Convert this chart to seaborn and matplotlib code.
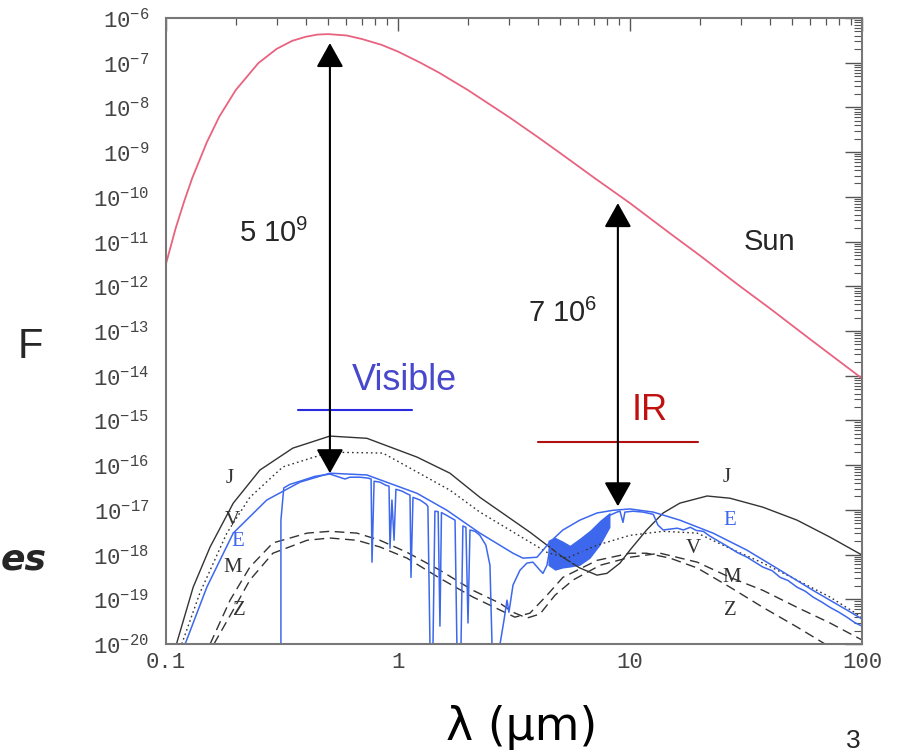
import numpy as np
import matplotlib
matplotlib.use("Agg")
import matplotlib.pyplot as plt
import seaborn as sns
from matplotlib.ticker import LogLocator, NullFormatter, FixedLocator, FixedFormatter

# ---------------- data ----------------
# wavelengths in micrometres, fluxes given as log10(F)
sun_lam = [0.1, 0.11, 0.12, 0.13, 0.15, 0.17, 0.2, 0.25, 0.3, 0.35, 0.4, 0.45, 0.5,
           0.6, 0.7, 0.85, 1.0, 1.25, 1.5, 2, 3, 4, 5, 7, 10, 15, 20, 30, 40, 60, 100]
sun_logF = [-11.50, -10.71, -10.09, -9.57, -8.78, -8.20, -7.61, -7.01, -6.69, -6.51,
            -6.42, -6.37, -6.36, -6.39, -6.47, -6.60, -6.75, -7.00, -7.22, -7.61, -8.21,
            -8.66, -9.02, -9.57, -10.14, -10.83, -11.31, -12.01, -12.49, -13.19, -14.06]

J_lam = [0.111, 0.131, 0.155, 0.195, 0.254, 0.352, 0.509, 0.735, 1.208, 1.675, 2.255,
         3.706, 5.14, 6.08, 7.21, 7.96, 9.06, 10.0, 11.8, 13.9, 16.4, 21.5, 27.0, 37.4,
         52.5, 72.8, 100.0]
J_logF = [-20.0, -18.73, -17.83, -16.85, -16.11, -15.62, -15.35, -15.40, -15.82, -16.18,
          -16.72, -17.50, -18.06, -18.30, -18.46, -18.42, -18.19, -17.90, -17.45, -17.07,
          -16.85, -16.69, -16.74, -16.94, -17.23, -17.61, -18.01]

V_lam = [0.117, 0.140, 0.183, 0.230, 0.319, 0.509, 0.861, 1.675, 2.255, 4.387, 5.35,
         7.21, 10.0, 13.9, 19.5, 25.2, 37.4, 52.5, 72.8, 100.0]
V_logF = [-20.0, -18.86, -17.52, -16.72, -16.04, -15.71, -15.73, -16.56, -17.05, -17.95,
          -18.08, -17.79, -17.57, -17.48, -17.52, -17.79, -18.19, -18.57, -18.95, -19.40]

E_env_lam = [0.121, 0.150, 0.195, 0.272, 0.378, 0.509, 0.735, 1.208, 1.626, 2.255, 3.133,
             3.459, 3.974, 4.52, 5.14, 6.08, 7.21, 8.45, 10.0, 12.6, 16.4, 22.8, 31.9,
             44.4, 61.5, 86.1, 100.0]
E_env_logF = [-20.0, -18.73, -17.52, -16.78, -16.38, -16.18, -16.22, -16.63, -17.01,
              -17.52, -17.97, -18.08, -18.06, -17.72, -17.45, -17.23, -17.07, -17.01,
              -16.98, -17.05, -17.23, -17.52, -17.90, -18.35, -18.80, -19.24, -19.44]

E_spec_lam = [0.313, 0.313, 0.322, 0.342, 0.378, 0.439, 0.509, 0.591, 0.62, 0.686, 0.743,
              0.766, 0.773, 0.789, 0.836, 0.887, 0.915, 0.924, 0.942, 0.962, 0.980, 1.04,
              1.104, 1.127, 1.138, 1.161, 1.245, 1.32, 1.346, 1.374, 1.416, 1.443, 1.49,
              1.517, 1.54, 1.643, 1.762, 1.795, 1.870, 1.905, 1.963, 2.004, 2.044, 2.147,
              2.255, 2.393, 2.492, 2.543, 2.754, 2.864, 2.951, 3.008, 3.133, 3.357, 3.597,
              3.818, 4.093, 4.217, 4.387, 4.52, 4.75, 4.99, 5.35, 5.79, 6.40, 7.07, 7.65,
              8.20, 8.79, 9.06, 9.33, 9.51, 10.3, 11.4, 12.6, 13.2, 13.9, 14.9, 16.0, 17.0,
              18.2, 19.3, 20.7, 22.0, 23.7, 26.0, 28.9, 32.0, 37.4, 41.0, 44.4, 48.0, 52.5,
              57.0, 61.5, 67.0, 72.8, 79.0, 86.1, 93.0, 100.0]
E_spec_logF = [-20.0, -17.23, -16.51, -16.43, -16.36, -16.25, -16.20, -16.31, -16.27,
               -16.27, -16.29, -16.31, -18.17, -16.36, -16.38, -16.45, -16.47, -17.86,
               -16.78, -17.68, -16.54, -16.58, -16.65, -16.67, -18.51, -16.72, -16.78,
               -16.87, -16.92, -20.0, -20.0, -17.03, -17.04, -19.60, -17.06, -17.14,
               -17.23, -20.0, -20.0, -17.36, -17.39, -19.53, -17.45, -17.48, -17.57,
               -17.79, -18.24, -20.0, -20.0, -19.47, -19.02, -19.29, -18.68, -18.35,
               -18.19, -18.17, -18.35, -18.42, -18.24, -17.86, -17.79, -18.13, -18.24,
               -18.13, -17.86, -17.63, -17.34, -17.12, -17.05, -17.03, -17.28, -17.05,
               -17.03, -17.05, -17.10, -17.34, -17.45, -17.43, -17.41, -17.45, -17.39,
               -17.46, -17.48, -17.58, -17.68, -17.80, -17.95, -18.06, -18.28, -18.36,
               -18.51, -18.58, -18.73, -18.82, -18.95, -19.06, -19.18, -19.28, -19.40,
               -19.52, -19.60]

# dense 6.3 um water band (filled region)
Eband_lam = [4.43, 4.75, 5.14, 5.51, 6.08, 6.73, 7.43, 8.20]
Eband_lo = [-18.24, -18.35, -18.30, -18.28, -18.24, -18.08, -17.79, -17.39]
Eband_hi = [-17.68, -17.61, -17.70, -17.79, -17.63, -17.45, -17.23, -17.05]

M_lam = [0.155, 0.189, 0.230, 0.289, 0.406, 0.509, 0.665, 0.836, 1.094, 1.517, 2.104,
         2.754, 3.133, 3.597, 4.093, 4.75, 5.68, 7.43, 10.0, 13.5, 19.5, 27.0, 37.4,
         52.5, 72.8, 100.0]
M_logF = [-20.0, -19.02, -18.28, -17.74, -17.52, -17.48, -17.52, -17.68, -17.95, -18.35,
          -18.80, -19.09, -19.29, -19.42, -19.33, -18.91, -18.57, -18.24, -18.06, -17.97,
          -18.17, -18.51, -18.80, -19.18, -19.53, -19.91]

Z_lam = [0.161, 0.195, 0.230, 0.289, 0.406, 0.509, 0.665, 0.836, 1.094, 1.517, 2.104,
         2.754, 3.192, 3.706, 4.387, 5.14, 7.21, 10.0, 11.8, 14.9, 19.5, 27.0, 37.4,
         52.5, 69.3]
Z_logF = [-20.0, -19.24, -18.57, -17.97, -17.68, -17.63, -17.68, -17.83, -18.08, -18.53,
          -18.95, -19.24, -19.40, -19.31, -18.91, -18.51, -18.13, -17.97, -17.97, -18.08,
          -18.30, -18.73, -19.18, -19.62, -20.0]

# annotation values
arrow_x = [0.509, 8.87]
arrow_top_logF = [-6.56, -10.14]
arrow_bot_logF = [-16.18, -16.92]
ratio_labels = ["5 10$^{9}$", "7 10$^{6}$"]

x_ticks = [0.1, 1, 10, 100]
x_ticklabels = ["0.1", "1", "10", "100"]
y_exponents = list(range(-20, -5))

# ---------------- style ----------------
sns.set_style("white")
plt.rcParams["font.family"] = ["DejaVu Sans"]
plt.rcParams["mathtext.default"] = "regular"

fig = plt.figure(figsize=(8.99, 7.54), dpi=100)
ax = fig.add_axes([0.1846, 0.1459, 0.7742, 0.8302])

def P(v):
    return 10.0 ** np.asarray(v, dtype=float)

sun_col = "#e8637f"
blue = "#3d68ee"
dark = "#333333"

sns.lineplot(x=sun_lam, y=P(sun_logF), ax=ax, color=sun_col, lw=1.3,
             estimator=None, sort=False)
sns.lineplot(x=J_lam, y=P(J_logF), ax=ax, color=dark, lw=1.0, estimator=None, sort=False)
sns.lineplot(x=V_lam, y=P(V_logF), ax=ax, color=dark, lw=1.0, estimator=None, sort=False,
             linestyle=(0, (1.2, 2.2)))
sns.lineplot(x=M_lam, y=P(M_logF), ax=ax, color=dark, lw=1.0, estimator=None, sort=False,
             linestyle=(0, (7, 4)))
sns.lineplot(x=Z_lam, y=P(Z_logF), ax=ax, color=dark, lw=1.0, estimator=None, sort=False,
             linestyle=(0, (7, 4)))
sns.lineplot(x=E_env_lam, y=P(E_env_logF), ax=ax, color=blue, lw=1.1,
             estimator=None, sort=False)
sns.lineplot(x=E_spec_lam, y=P(E_spec_logF), ax=ax, color=blue, lw=1.1,
             estimator=None, sort=False)
ax.fill_between(Eband_lam, P(Eband_lo), P(Eband_hi), color=blue, lw=0)

ax.set_xscale("log")
ax.set_yscale("log")
ax.set_xlim(0.1, 100)
ax.set_ylim(1e-20, 1e-6)
ax.set_xlabel("")
ax.set_ylabel("")

# ticks
ax.xaxis.set_major_locator(FixedLocator(x_ticks))
ax.xaxis.set_major_formatter(FixedFormatter(x_ticklabels))
ax.xaxis.set_minor_locator(LogLocator(base=10, subs=np.arange(2, 10), numticks=100))
ax.xaxis.set_minor_formatter(NullFormatter())
ax.yaxis.set_major_locator(FixedLocator([10.0 ** e for e in y_exponents]))
ax.yaxis.set_major_formatter(FixedFormatter([r"10$^{%d}$" % e for e in y_exponents]))
ax.yaxis.set_minor_locator(LogLocator(base=10, subs=np.arange(2, 10), numticks=100))
ax.yaxis.set_minor_formatter(NullFormatter())

ax.tick_params(which="both", direction="in", top=True, right=True, colors="#555555",
               labelcolor="#444444", labelsize=16)
ax.tick_params(axis="x", which="major", length=9, width=1.0, pad=6)
ax.tick_params(axis="x", which="minor", length=5, width=0.9)
ax.tick_params(axis="y", which="major", length=12, width=1.0, pad=12)
ax.tick_params(axis="y", which="minor", length=6, width=0.8)
for lbl in ax.get_xticklabels() + ax.get_yticklabels():
    lbl.set_family("Liberation Mono")
for s in ax.spines.values():
    s.set_color("#777777")
    s.set_linewidth(1.5)

# arrows
for xa, t, b in zip(arrow_x, arrow_top_logF, arrow_bot_logF):
    ax.annotate("", xy=(xa, 10.0 ** t), xytext=(xa, 10.0 ** b),
                arrowprops=dict(arrowstyle="<|-|>,head_length=0.75,head_width=0.42",
                                mutation_scale=20, color="black", lw=1.5,
                                shrinkA=0, shrinkB=0))

ax.text(0.292, 10 ** -10.81, ratio_labels[0], fontsize=21, family="Liberation Sans",
        ha="center", va="center")
ax.text(5.14, 10 ** -12.60, ratio_labels[1], fontsize=21, family="Liberation Sans",
        ha="center", va="center")
ax.text(40.1, 10 ** -11.01, "Sun", fontsize=21, family="Liberation Sans",
        ha="center", va="center")

# Visible / IR markers
ax.plot([0.371, 1.15], [10 ** -14.77, 10 ** -14.77], color="#2a2ae0", lw=1.5)
ax.text(1.07, 10 ** -14.1, "Visible", color="#4848cc", fontsize=26,
        family="Liberation Sans", ha="center", va="center")
ax.plot([4.0, 19.6], [10 ** -15.49, 10 ** -15.49], color="#b01010", lw=1.5)
ax.text(12.2, 10 ** -14.77, "IR", color="#c01010", fontsize=26,
        family="Liberation Sans", ha="center", va="center")

# curve labels
lab = dict(fontsize=15, family="Liberation Serif", ha="center", va="center")
for (xx, yy, s, c) in [(0.189, -16.29, "J", dark), (0.193, -17.23, "V", dark),
                       (0.204, -17.70, "E", blue), (0.193, -18.30, "M", dark),
                       (0.208, -19.24, "Z", dark), (26.2, -16.27, "J", dark),
                       (27.0, -17.23, "E", blue), (18.8, -17.86, "V", dark),
                       (27.5, -18.51, "M", dark), (27.0, -19.24, "Z", dark)]:
    ax.text(xx, 10 ** yy, s, color=c, **lab)

# outside texts
fig.text(30 / 899, 1 - 347 / 754, "F", fontsize=30, family="Liberation Sans",
         ha="center", va="center")
fig.text(1 / 899, 1 - 560 / 754, "es", fontsize=26, fontweight="bold",
         style="italic", ha="left", va="center")
fig.text(522 / 899, 1 - 728 / 754, "λ (μm)", fontsize=33, ha="center", va="center",
         color="black")
fig.text(853 / 899, 1 / 754, "3", fontsize=19, ha="center", va="bottom",
         family="Liberation Sans")

fig.savefig("out.png", dpi=100)
